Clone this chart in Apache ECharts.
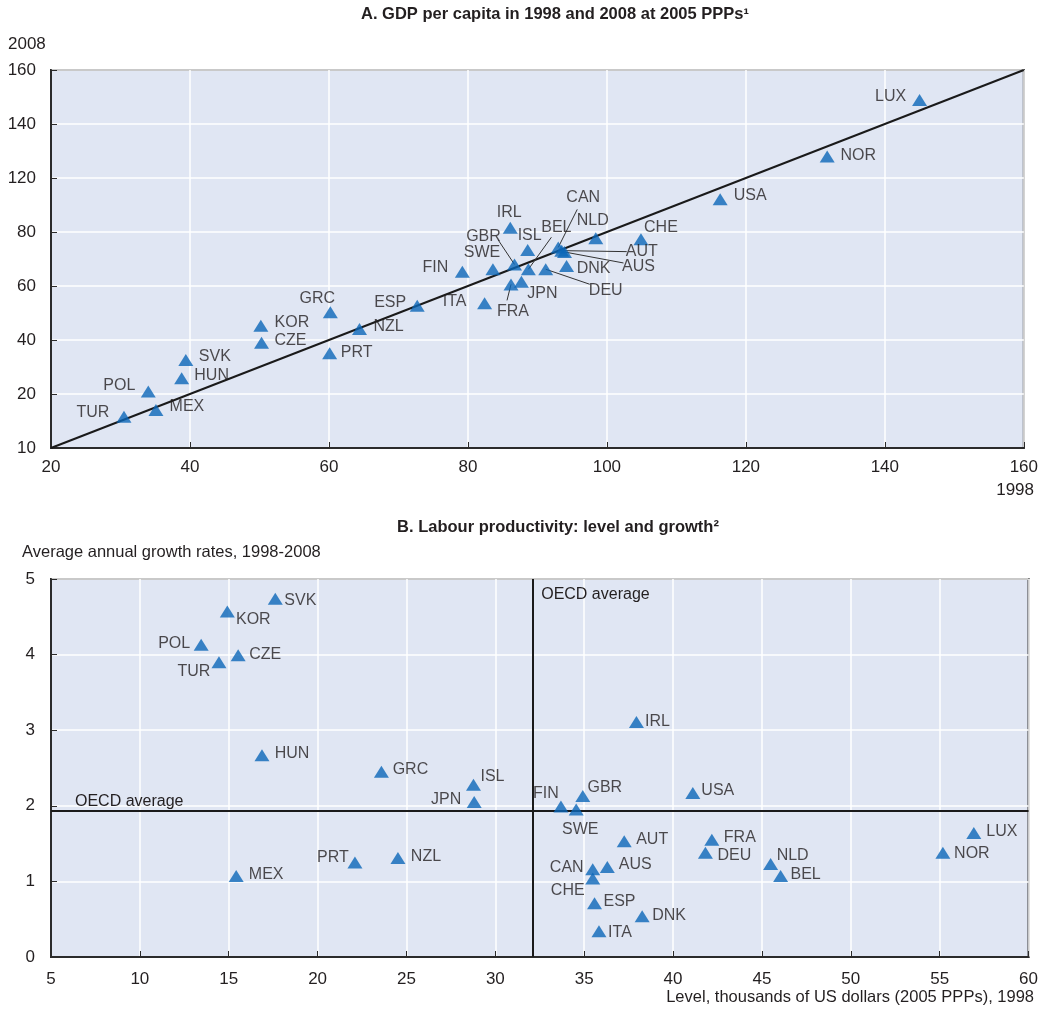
<!DOCTYPE html>
<html>
<head>
<meta charset="utf-8">
<script src="https://cdn.jsdelivr.net/npm/echarts@6/dist/echarts.min.js"></script>
<style>
  html, body { margin: 0; padding: 0; background: #fff; }
  #chart { width: 1041px; height: 1009px; }
</style>
</head>
<body>
<div id="chart"></div>
<script>
// Country codes shared by both panels
const countries = ['LUX','NOR','USA','CHE','NLD','CAN','AUT','AUS','DNK','DEU','BEL','ISL','IRL','GBR','SWE',
                   'FIN','JPN','FRA','ITA','ESP','GRC','NZL','PRT','KOR','CZE','SVK','HUN','POL','MEX','TUR'];

// Panel A: GDP per capita index, 1998 (x) and 2008 (y)
const gdp1998 = [145.0,131.7,116.3,104.9,98.4,93.0,93.5,93.9,94.2,91.2,88.7,88.6,86.1,86.7,83.6,
                 79.2,87.7,86.2,82.4,72.7,60.2,64.4,60.1,50.2,50.3,39.4,38.8,34.0,35.1,30.5];
const gdp2008 = [148.9,128.0,112.1,97.3,97.7,94.3,93.1,92.6,87.4,86.2,86.2,93.3,101.6,88.0,86.2,
                 85.3,81.6,80.6,73.6,72.7,70.3,64.1,55.1,65.3,59.0,52.6,45.8,40.9,34.1,31.6];

// Panel B: labour productivity level 1998 (thousand USD, 2005 PPPs) and average annual growth 1998-2008 (%)
const prodLevel1998 = [56.92,55.18,41.11,35.48,45.49,35.48,37.25,36.30,38.26,41.82,46.05,28.77,37.94,34.92,34.55,
                       33.69,28.81,42.18,35.83,35.58,23.59,24.52,22.10,14.92,15.53,17.62,16.87,13.45,15.42,14.45];
const prodGrowth = [1.64,1.38,2.17,1.04,1.23,1.16,1.53,1.19,0.54,1.38,1.07,2.28,3.11,2.13,1.95,
                    1.99,2.05,1.55,0.34,0.71,2.45,1.31,1.25,4.57,3.99,4.74,2.67,4.13,1.07,3.90];

// OECD averages in panel B
const oecdAvgLevel = 32.13;
const oecdAvgGrowth = 1.93;

// Axis ranges and tick labels
const axisA = { min: 20, max: 160, interval: 20 };
const yTickLabelsA = ['10','20','40','60','80','120','140','160'];
const axisBx = { min: 5, max: 60, interval: 5 };
const axisBy = { min: 0, max: 5, interval: 1 };

// Text
const titleA = 'A. GDP per capita in 1998 and 2008 at 2005 PPPs\u00b9';
const titleB = 'B. Labour productivity: level and growth\u00b2';
const yNameA = '2008';
const xNameA = '1998';
const yNameB = 'Average annual growth rates, 1998-2008';
const xNameB = 'Level, thousands of US dollars (2005 PPPs), 1998';
const avgLabel = 'OECD average';

// ---- layout: label centre offsets (px) from each marker ----
const labelOffsetA = {
  LUX:[-29,-3], NOR:[31,-1], USA:[30,-4], CHE:[20,-12], NLD:[-3,-18], CAN:[25,-50], AUT:[80,1], AUS:[74,15],
  DNK:[27,3], DEU:[60,21], BEL:[28,-42], ISL:[2,-14], IRL:[-1,-15], GBR:[-31,-28], SWE:[-11,-17],
  FIN:[-27,-4], JPN:[21,12], FRA:[2,27], ITA:[-30,-2], ESP:[-27,-3], GRC:[-13,-14], NZL:[29,-2],
  PRT:[27,-1], KOR:[31,-3], CZE:[29,-2], SVK:[29,-3], HUN:[30,-3], POL:[-29,-6], MEX:[31,-3], TUR:[-31,-4]
};
// leader lines in panel A: end point offset (px) from the marker
const leaderA = {
  CAN:[19,-38], AUT:[65,1], AUS:[59,11], DEU:[44,15], BEL:[23,-32], GBR:[-16,-24], FRA:[-4,16]
};
const labelOffsetB = {
  LUX:[28,-1], NOR:[29,1], USA:[25,-2], CHE:[-25,12], NLD:[22,-8], CAN:[-26,-2], AUT:[28,-2], AUS:[28,-2],
  DNK:[27,-1], DEU:[29,3], BEL:[25,-2], ISL:[19,-8], IRL:[21,0], GBR:[22,-8], SWE:[4,20],
  FIN:[-15,-13], JPN:[-28,-2], FRA:[28,-2], ITA:[21,1], ESP:[25,-2], GRC:[29,-2], NZL:[28,-1],
  PRT:[-22,-5], KOR:[26,8], CZE:[27,-1], SVK:[25,2], HUN:[30,-2], POL:[-27,-1], MEX:[30,-2], TUR:[-25,9]
};

const FONT = "'Liberation Sans', Arial, sans-serif";
const FS = 16;        // point labels
const FS_TICK = 17;   // axis tick labels
const FS_NAME = 16.5; // axis names
const TEXT = '#231f20';
const BLUE = '#0b66b8';
const AXIS = '#2b2b2b';
const PLOT_BG = '#e0e6f3';

const chart = echarts.init(document.getElementById('chart'), null, { renderer: 'canvas' });

function pointData(xs, ys, offsets) {
  return countries.map((c, i) => ({
    name: c,
    value: [xs[i], ys[i]],
    label: { offset: offsets[c] }
  }));
}

function axisCommon(range) {
  return {
    type: 'value', min: range.min, max: range.max, interval: range.interval,
    axisLine: { show: true, onZero: false, lineStyle: { color: AXIS, width: 2 } },
    axisTick: { show: true, inside: true, length: 6, lineStyle: { color: AXIS, width: 1 } },
    splitLine: { show: true, lineStyle: { color: '#ffffff', width: 1.5 } },
    axisLabel: { color: TEXT, fontFamily: FONT, fontSize: FS_TICK }
  };
}

const scatterStyle = {
  type: 'scatter', symbol: 'triangle', symbolSize: [15, 12],
  itemStyle: { color: BLUE }, z: 5,
  label: {
    show: true, position: 'inside', align: 'center', verticalAlign: 'middle',
    formatter: '{b}', color: TEXT, fontFamily: FONT, fontSize: FS
  },
  emphasis: { disabled: true }
};

const option = {
  animation: false,
  backgroundColor: '#ffffff',
  textStyle: { fontFamily: FONT },
  grid: [
    { left: 51, right: 7, top: 70, height: 378, show: true, backgroundColor: PLOT_BG, borderColor: AXIS, borderWidth: 2 },
    { left: 51, right: 7, top: 579, height: 378, show: true, backgroundColor: PLOT_BG, borderColor: AXIS, borderWidth: 2 }
  ],
  xAxis: [
    Object.assign(axisCommon(axisA), { gridIndex: 0, axisLabel: { color: TEXT, fontFamily: FONT, fontSize: FS_TICK, margin: 11 } }),
    Object.assign(axisCommon(axisBx), { gridIndex: 1, axisLabel: { color: TEXT, fontFamily: FONT, fontSize: FS_TICK, margin: 14 } })
  ],
  yAxis: [
    Object.assign(axisCommon(axisA), {
      gridIndex: 0,
      axisLabel: { color: TEXT, fontFamily: FONT, fontSize: FS_TICK, margin: 15,
                   formatter: (v, idx) => yTickLabelsA[idx] }
    }),
    Object.assign(axisCommon(axisBy), { gridIndex: 1, axisLabel: { color: TEXT, fontFamily: FONT, fontSize: FS_TICK, margin: 16 } })
  ],
  graphic: [
    { type: 'text', x: 555, y: 14, style: { text: titleA, font: 'bold 16.5px ' + FONT, fill: TEXT, align: 'center', verticalAlign: 'middle' } },
    { type: 'text', x: 558, y: 527, style: { text: titleB, font: 'bold 16.5px ' + FONT, fill: TEXT, align: 'center', verticalAlign: 'middle' } },
    { type: 'text', x: 8, y: 44, style: { text: yNameA, font: FS_TICK + 'px ' + FONT, fill: TEXT, align: 'left', verticalAlign: 'middle' } },
    { type: 'text', x: 1034, y: 490, style: { text: xNameA, font: FS_TICK + 'px ' + FONT, fill: TEXT, align: 'right', verticalAlign: 'middle' } },
    { type: 'text', x: 22, y: 552, style: { text: yNameB, font: FS_NAME + 'px ' + FONT, fill: TEXT, align: 'left', verticalAlign: 'middle' } },
    { type: 'text', x: 1034, y: 997, style: { text: xNameB, font: FS_NAME + 'px ' + FONT, fill: TEXT, align: 'right', verticalAlign: 'middle' } }
  ],
  series: [
    // 45-degree reference line across the panel A range
    {
      type: 'line', xAxisIndex: 0, yAxisIndex: 0, silent: true, symbol: 'none', z: 3,
      data: [[axisA.min, axisA.min], [axisA.max, axisA.max]],
      lineStyle: { color: '#1a1a1a', width: 2 }
    },
    // leader lines from displaced labels back to their markers
    {
      type: 'custom', xAxisIndex: 0, yAxisIndex: 0, silent: true, z: 4,
      data: countries.map((c, i) => [gdp1998[i], gdp2008[i], i]).filter(d => leaderA[countries[d[2]]]),
      renderItem: (params, api) => {
        const p = api.coord([api.value(0), api.value(1)]);
        const off = leaderA[countries[api.value(2)]];
        return {
          type: 'line',
          shape: { x1: p[0], y1: p[1], x2: p[0] + off[0], y2: p[1] + off[1] },
          style: { stroke: '#333333', lineWidth: 1 }
        };
      }
    },
    Object.assign({}, scatterStyle, {
      xAxisIndex: 0, yAxisIndex: 0,
      data: pointData(gdp1998, gdp2008, labelOffsetA)
    }),
    Object.assign({}, scatterStyle, {
      xAxisIndex: 1, yAxisIndex: 1,
      data: pointData(prodLevel1998, prodGrowth, labelOffsetB),
      markLine: {
        silent: true, symbol: 'none', label: { show: false },
        lineStyle: { color: '#1a1a1a', width: 2, type: 'solid' },
        data: [{ xAxis: oecdAvgLevel }, { yAxis: oecdAvgGrowth }]
      }
    }),
    // "OECD average" captions beside the two average lines
    {
      type: 'custom', xAxisIndex: 1, yAxisIndex: 1, silent: true, z: 6,
      data: [[oecdAvgLevel, axisBy.max, 0], [axisBx.min, oecdAvgGrowth, 1]],
      renderItem: (params, api) => {
        const p = api.coord([api.value(0), api.value(1)]);
        const vertical = api.value(2) === 0;
        return {
          type: 'text',
          x: vertical ? p[0] + 8 : p[0] + 24,
          y: vertical ? p[1] + 16 : p[1] - 9,
          style: { text: avgLabel, font: FS + 'px ' + FONT, fill: TEXT, align: 'left', verticalAlign: 'middle' }
        };
      }
    }
  ]
};

chart.setOption(option);
</script>
</body>
</html>
